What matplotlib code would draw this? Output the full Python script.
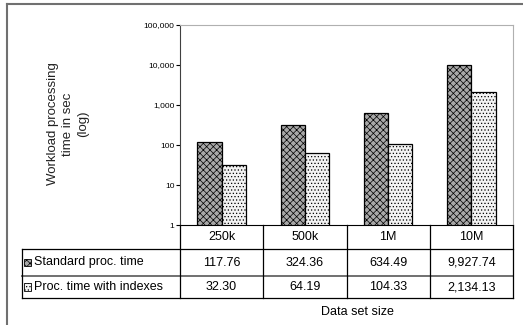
import matplotlib.pyplot as plt
import matplotlib
from matplotlib.patches import Rectangle
from matplotlib.lines import Line2D

matplotlib.rcParams['font.family'] = ['Liberation Sans', 'DejaVu Sans']
matplotlib.rcParams['hatch.linewidth'] = 0.5

sizes = ['250k', '500k', '1M', '10M']
standard = [117.76, 324.36, 634.49, 9927.74]
indexed = [32.30, 64.19, 104.33, 2134.13]
series_names = ['Standard proc. time', 'Proc. time with indexes']
yticks = [1, 10, 100, 1000, 10000, 100000]

W, H = 523, 325
fig = plt.figure(figsize=(W / 100, H / 100), dpi=100)
ax = fig.add_axes([180 / W, 1 - 225 / H, 333 / W, 200 / H])

styles = [dict(facecolor='#a8a8a8', hatch='xxxxx'), dict(facecolor='#f2f2f2', hatch='.....')]
bw = 0.29
x = range(len(sizes))
for i, vals in enumerate([standard, indexed]):
    off = (i - 0.5) * bw
    ax.bar([k + off for k in x], vals, bw, edgecolor='black', linewidth=0.9, **styles[i])

ax.set_yscale('log')
ax.set_ylim(1, 100000)
ax.set_xlim(-0.5, len(sizes) - 0.5)
ax.set_yticks(yticks)
ax.set_yticklabels([f'{v:,}' for v in yticks], fontsize=6)
ax.minorticks_off()
ax.tick_params(axis='y', length=3, width=0.8, pad=1)
ax.set_xticks([])
for s in ['top', 'right']:
    ax.spines[s].set_color('#b0b0b0')
ax.spines['left'].set_color('#404040')
ax.spines['bottom'].set_color('black')

fig.text(68 / W, 1 - 124 / H, 'Workload processing\ntime in sec\n(log)', rotation=90, fontsize=9.5,
         color='#222222', ha='center', va='center', linespacing=1.3)

# table under the axis
tr = ax.get_xaxis_transform()
rows_y = [0, -0.12, -0.255, -0.365]
left = -0.5 - (180 - 22) / 333 * len(sizes)
xr = len(sizes) - 0.5
lk = dict(color='black', lw=0.9, transform=tr, clip_on=False)
ax.add_line(Line2D([left, xr], [rows_y[1]] * 2, **lk))
ax.add_line(Line2D([left, xr], [rows_y[2]] * 2, color='#707070', lw=1.4, transform=tr, clip_on=False))
ax.add_line(Line2D([left, xr], [rows_y[3]] * 2, **lk))
for b in [k - 0.5 for k in range(len(sizes) + 1)]:
    ax.add_line(Line2D([b, b], [rows_y[0], rows_y[3]], **lk))
ax.add_line(Line2D([left, left], [rows_y[1], rows_y[3]], **lk))

fs = 9
for k, lab in enumerate(sizes):
    ax.text(k, (rows_y[0] + rows_y[1]) / 2, lab, transform=tr, ha='center', va='center', fontsize=fs)
for r, vals in enumerate([standard, indexed]):
    yc = (rows_y[r + 1] + rows_y[r + 2]) / 2
    for k, v in enumerate(vals):
        ax.text(k, yc, f'{v:,.2f}', transform=tr, ha='center', va='center', fontsize=fs)
    ax.add_patch(Rectangle((left + 0.03, yc - 0.018), 0.08, 0.036, transform=tr, clip_on=False,
                           edgecolor='black', linewidth=0.6, **styles[r]))
    ax.text(left + 0.15, yc, series_names[r], transform=tr, ha='left', va='center', fontsize=fs)

fig.text(357 / W, 1 - 312 / H, 'Data set size', ha='center', va='center', fontsize=fs)

# outer frame
fig.add_artist(Line2D([7 / W, 7 / W], [0, 1 - 4 / H], color='#707070', lw=1.5))
fig.add_artist(Line2D([7 / W, 1], [1 - 4 / H, 1 - 4 / H], color='#707070', lw=1.5))

plt.savefig('out.png', dpi=100)
